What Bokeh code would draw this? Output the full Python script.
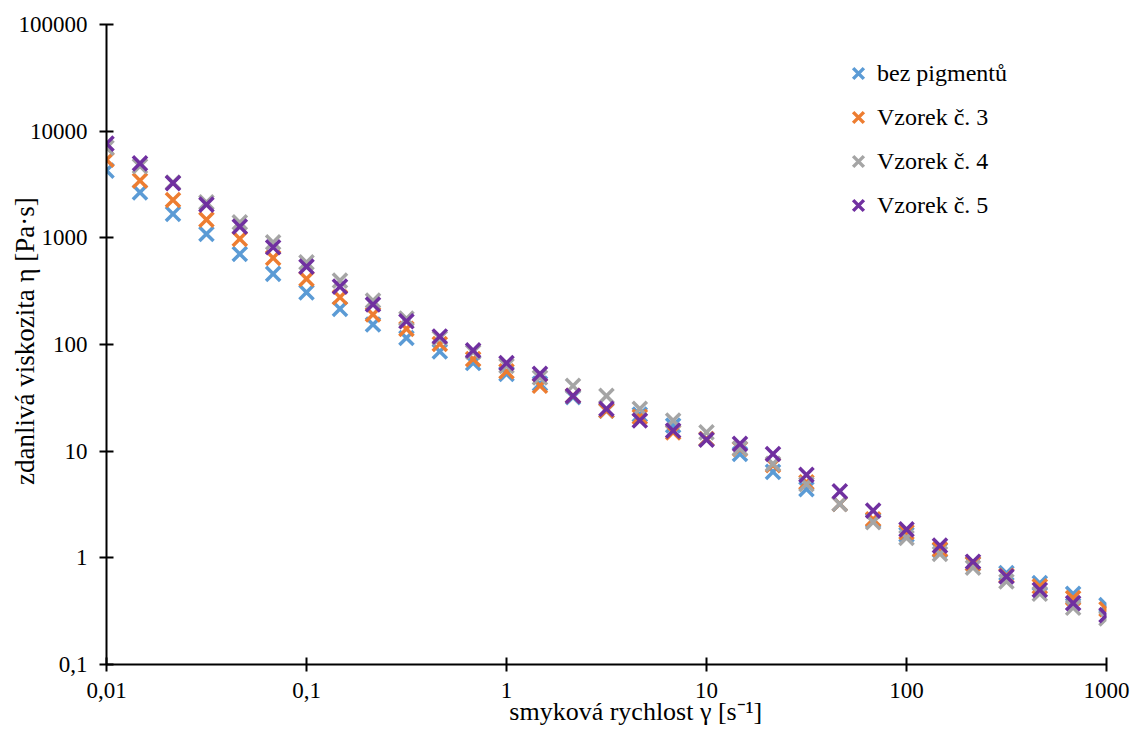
import math
from bokeh.plotting import figure
from bokeh.models import (ColumnDataSource, FixedTicker, CustomJSTickFormatter,
                          Legend, LegendItem)
from bokeh.embed import file_html
from bokeh.resources import INLINE

# shear rate [1/s]
shear_rate = [0.01, 0.0147, 0.0215, 0.0316, 0.0464, 0.0681, 0.1, 0.147, 0.215, 0.316,
              0.464, 0.681, 1, 1.47, 2.15, 3.16, 4.64, 6.81, 10, 14.7, 21.5, 31.6,
              46.4, 68.1, 100, 147, 215, 316, 464, 681, 1000]

bez_pigmentu = [4270, 2670, 1675, 1087, 706, 459, 308, 216, 154, 115, 86, 67, 53, 43,
                32, 24, 22, 17.4, 13, 9.4, 6.4, 4.4, 3.2, 2.25, 1.65, 1.18, 0.88,
                0.72, 0.58, 0.46, 0.36]
vzorek_3 = [5400, 3440, 2265, 1480, 977, 648, 412, 277, 191, 140, 101, 73, 56, 41, 33,
            24, 21, 15, 13, 10.5, 7.4, 5.1, 3.2, 2.3, 1.74, 1.2, 0.88, 0.68, 0.54,
            0.42, 0.33]
vzorek_4 = [7000, 4700, 3300, 2150, 1397, 908, 589, 397, 258, 175, 115, 85, 63, 49, 41,
            33, 24.9, 19.4, 15, 10.6, 7.6, 4.9, 3.2, 2.16, 1.54, 1.09, 0.81, 0.60,
            0.46, 0.34, 0.27]
vzorek_5 = [7640, 4990, 3260, 2050, 1274, 815, 537, 349, 237, 165, 119, 88, 67, 53, 33,
            24.9, 19.4, 15.6, 12.8, 11.7, 9.4, 6.0, 4.2, 2.77, 1.85, 1.30, 0.92, 0.668,
            0.50, 0.376, 0.29]

series_names = ["bez pigmentů", "Vzorek č. 3", "Vzorek č. 4", "Vzorek č. 5"]
series_values = [bez_pigmentu, vzorek_3, vzorek_4, vzorek_5]
colors = ["#5B9BD5", "#ED7D31", "#A5A5A5", "#7030A0"]

x_ticks = [0.01, 0.1, 1, 10, 100, 1000]
y_ticks = [0.1, 1, 10, 100, 1000, 10000, 100000]

FONT = "Liberation Serif"
NB = "\u00a0"

p = figure(x_axis_type="log", y_axis_type="log",
           x_range=(0.01, 1000), y_range=(0.1, 100000),
           frame_width=1000, frame_height=640,
           min_border_left=106, min_border_right=27, min_border_top=24,
           min_border_bottom=0,
           output_backend="svg", toolbar_location=None)
p.outline_line_color = None
p.xgrid.visible = False
p.ygrid.visible = False
p.background_fill_color = "white"
p.border_fill_color = "white"

fmt = CustomJSTickFormatter(code="""
const e = Math.round(Math.log10(tick));
if (e >= 0) return String(Math.round(Math.pow(10, e)));
return '0,' + '0'.repeat(-e - 1) + '1';
""")

for ax, ticks in ((p.xaxis[0], x_ticks), (p.yaxis[0], y_ticks)):
    ax.ticker = FixedTicker(ticks=ticks, minor_ticks=[])
    ax.formatter = fmt
    ax.axis_line_color = "black"
    ax.axis_line_width = 2
    ax.major_tick_line_color = "black"
    ax.major_tick_line_width = 2
    ax.major_tick_in = 7
    ax.major_tick_out = 7
    ax.minor_tick_line_color = None
    ax.major_label_text_font = FONT
    ax.major_label_text_font_size = "23px"
    ax.major_label_text_color = "black"
    ax.axis_label_text_font = FONT
    ax.axis_label_text_font_style = "normal"
    ax.axis_label_text_color = "black"

p.yaxis[0].major_label_standoff = 12
p.xaxis[0].major_label_standoff = 11
p.xaxis[0].axis_label = NB * 9 + "smyková rychlost γ [s⁻¹]"
p.xaxis[0].axis_label_text_font_size = "26px"
p.xaxis[0].axis_label_standoff = -4
p.yaxis[0].axis_label = NB * 2 + "zdanlivá  viskozita η [Pa·s]"
p.yaxis[0].axis_label_text_font_size = "27px"
p.yaxis[0].axis_label_standoff = -24

items = []
for name, vals, c in zip(series_names, series_values, colors):
    src = ColumnDataSource(dict(x=shear_rate, y=vals))
    r = p.scatter("x", "y", source=src, marker="x", size=20,
                  line_color=c, line_width=3.5)
    items.append(LegendItem(label=name, renderers=[r]))

legend = Legend(items=items, location=(733, 440), orientation="vertical",
                label_text_font=FONT, label_text_font_size="24px",
                label_text_color="black", glyph_width=38, glyph_height=38,
                label_standoff=0, spacing=6, padding=0, margin=0,
                border_line_color=None, background_fill_alpha=0)
p.add_layout(legend)

open("out.html", "w").write(file_html(p, INLINE))
